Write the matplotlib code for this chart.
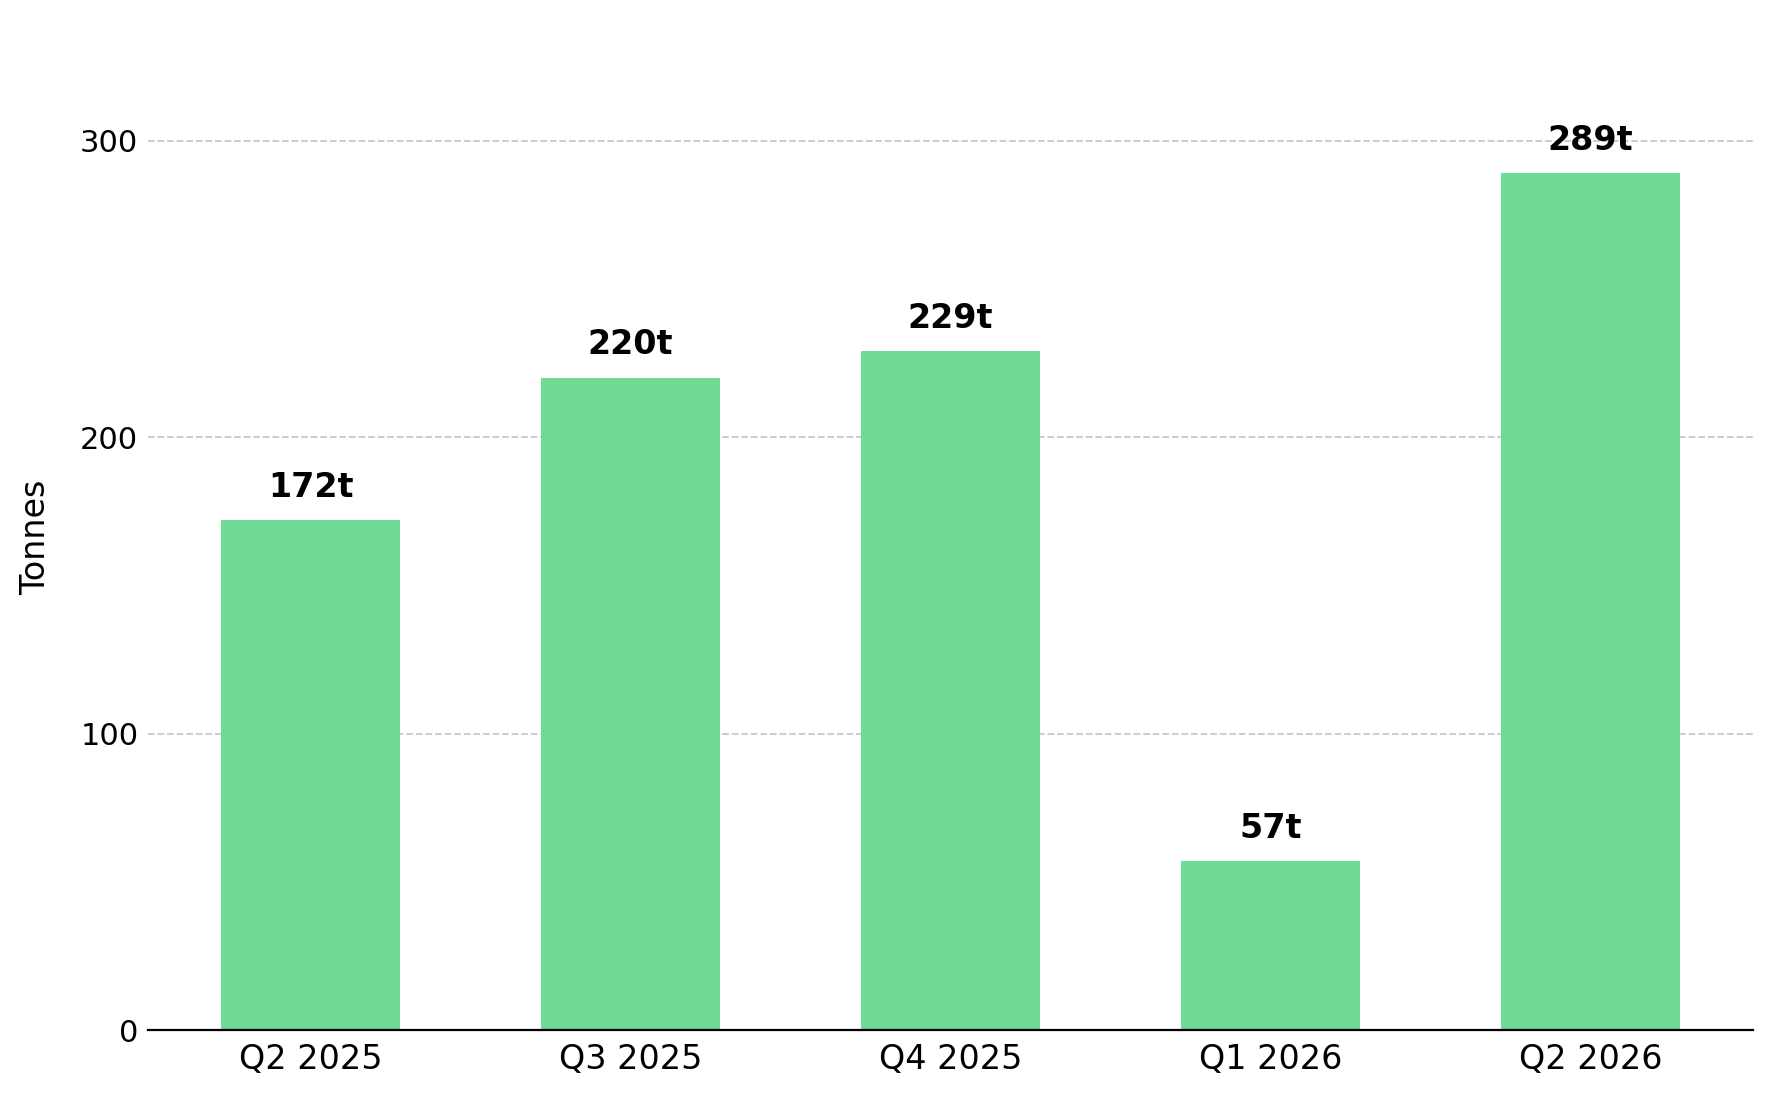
import matplotlib.pyplot as plt
import numpy as np

quarters = ['Q2 2025', 'Q3 2025', 'Q4 2025', 'Q1 2026', 'Q2 2026']
tonnes = [172, 220, 229, 57, 289]
labels = [str(v) + 't' for v in tonnes]

fig = plt.figure(figsize=(17.73, 10.93), dpi=100)
ax = fig.add_axes([0.0835, 0.0572, 0.9052, 0.902])

x = np.arange(len(quarters))
bars = ax.bar(x, tonnes, 0.56, color='#70d996', zorder=2)

for rect, lab in zip(bars, labels):
    ax.annotate(lab, (rect.get_x() + rect.get_width() / 2, rect.get_height()),
                xytext=(0, 12), textcoords='offset points',
                ha='center', va='bottom', fontsize=24, fontweight='bold')

ax.set_ylim(0, max(tonnes) * 1.15)
ax.set_yticks([0, 100, 200, 300])
ax.set_xticks(x, quarters)
ax.tick_params(axis='y', length=0, labelsize=22, pad=7)
ax.tick_params(axis='x', length=0, labelsize=24, pad=9)
ax.set_ylabel('Tonnes', fontsize=24, labelpad=20)

ax.grid(axis='y', color='#c8c8c8', linestyle='--', linewidth=1.3, zorder=0)
ax.set_axisbelow(True)
for side in ['top', 'right', 'left']:
    ax.spines[side].set_visible(False)
ax.spines['bottom'].set_linewidth(1.6)

plt.savefig('out.png', dpi=100)
plt.close()
